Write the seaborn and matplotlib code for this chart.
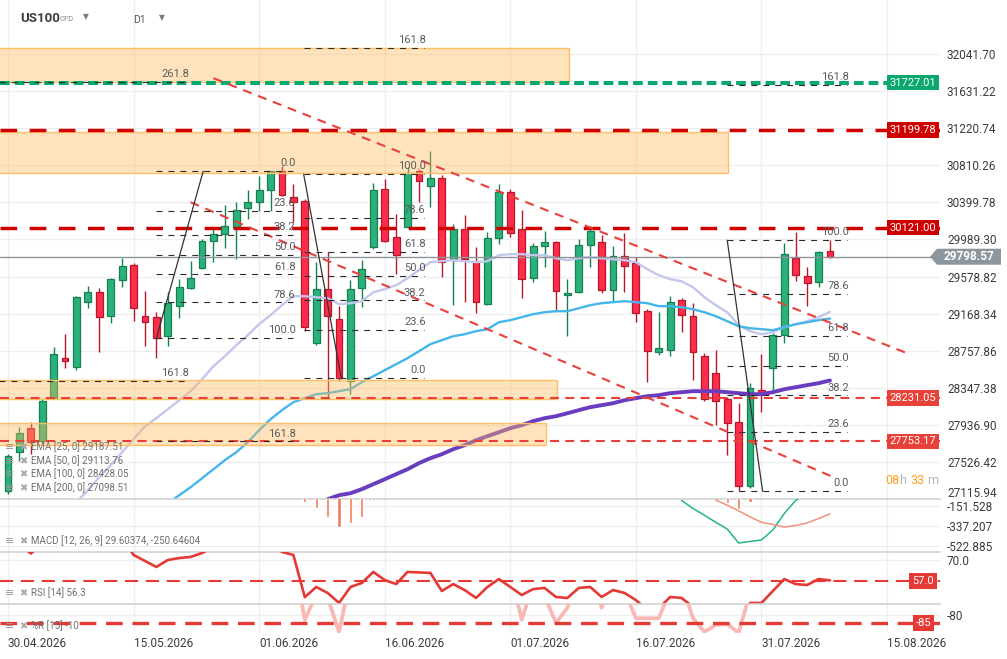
import matplotlib
matplotlib.use("Agg")
import matplotlib.pyplot as plt
import matplotlib.transforms as mtransforms
from matplotlib.patches import Rectangle, Polygon
import numpy as np
import seaborn as sns

# ---- data (US100 CFD, D1) ----
tick_labels = ['30.04.2026', '15.05.2026', '01.06.2026', '16.06.2026',
               '01.07.2026', '16.07.2026', '31.07.2026', '15.08.2026']
bars_per_tick = 11

opens = [27201, 27633, 27899, 27755, 28232, 28675, 28575, 29295, 29406, 29140,
         29539, 29705, 29140, 29129, 28918, 29251, 29450, 29671, 29970, 30048,
         30115, 30336, 30402, 30535, 30746, 30458, 30414, 28841, 29439, 29107,
         28420, 29450, 29904, 30546, 30015, 30126, 30746, 30580, 30668, 29771,
         30103, 29738, 29273, 30004, 30513, 30103, 29561, 29915, 29959, 29372,
         29406, 29926, 29959, 29428, 29804, 29727, 29195, 28741, 28763, 29317,
         29140, 28697, 28509, 28221, 27966, 27257, 28320, 28564, 28929, 29782,
         29583, 29516, 29860]
highs = [27611, 27910, 27966, 28221, 28796, 28940, 29361, 29472, 29450, 29561,
         29782, 29727, 29417, 29184, 29406, 29550, 29749, 29993, 30103, 30369,
         30402, 30535, 30690, 30750, 30801, 30602, 30436, 29738, 29849, 29251,
         29539, 29760, 30613, 30657, 30270, 30790, 30768, 30967, 30702, 30159,
         30258, 29904, 30070, 30602, 30546, 30314, 29948, 30081, 29970, 29550,
         29993, 30137, 30037, 29915, 30059, 29793, 29217, 29184, 29361, 29339,
         29284, 28730, 28763, 28243, 28176, 28398, 28719, 28951, 29948, 30070,
         29683, 29860, 29982]
lows = [27168, 27534, 27611, 27733, 28221, 28564, 28542, 29228, 28741, 29062,
        29461, 29084, 28808, 28675, 28808, 29118, 29439, 29660, 29738, 29893,
        29771, 30214, 30303, 30303, 30469, 30181, 28974, 28819, 28232, 28420,
        28276, 29239, 29882, 29959, 29605, 30115, 30402, 30347, 29572, 29262,
        29295, 29173, 29262, 29937, 30015, 29339, 29516, 29683, 29206, 28918,
        29395, 29683, 29395, 29295, 29406, 29073, 28409, 28708, 28697, 28963,
        28431, 28198, 27933, 27600, 27201, 27235, 28077, 28298, 28841, 29527,
        29251, 29461, 29782]
closes = [27589, 27844, 27744, 28198, 28719, 28641, 29350, 29406, 29129, 29550,
          29694, 29228, 29073, 28896, 29284, 29461, 29561, 29970, 30048, 30137,
          30314, 30402, 30535, 30746, 30480, 30402, 29018, 29439, 29140, 28453,
          29439, 29660, 30535, 29970, 29815, 30724, 30635, 30668, 29738, 30103,
          29771, 29295, 30004, 30513, 30059, 29550, 29915, 29959, 29417, 29395,
          29926, 30081, 29428, 29804, 29694, 29173, 28752, 28785, 29295, 29151,
          28741, 28221, 28198, 27955, 27257, 28342, 28287, 28929, 29827, 29594,
          29505, 29849, 29798.57]

# moving averages (visible part only, aligned to the last bar)
ema25 = [27080, 27213, 27357, 27490, 27633, 27777, 27921, 28010, 28110, 28209,
         28309, 28442, 28586, 28697, 28819, 28929, 29051, 29151, 29262, 29361,
         29361, 29350, 29339, 29273, 29284, 29306, 29406, 29439, 29483, 29561,
         29649, 29738, 29749, 29760, 29749, 29738, 29749, 29815, 29827, 29827,
         29815, 29815, 29782, 29760, 29782, 29793, 29782, 29771, 29760, 29738,
         29660, 29594, 29550, 29527, 29461, 29350, 29262, 29184, 29040, 28974,
         28940, 28963, 29018, 29051, 29084, 29129, 29187.51]
ema50 = [27069, 27157, 27246, 27345, 27445, 27545, 27633, 27744, 27877, 27999,
         28099, 28187, 28232, 28276, 28287, 28309, 28331, 28409, 28475, 28542,
         28608, 28675, 28752, 28830, 28874, 28918, 28940, 28974, 28996, 29073,
         29096, 29129, 29162, 29184, 29195, 29195, 29228, 29262, 29284, 29295,
         29306, 29295, 29284, 29251, 29251, 29239, 29217, 29184, 29140, 29084,
         29029, 29007, 28996, 28985, 29018, 29051, 29073, 29096, 29113.76]
ema100 = [27113, 27157, 27179, 27224, 27279, 27334, 27390, 27445, 27512, 27567,
          27611, 27667, 27711, 27766, 27811, 27855, 27899, 27933, 27977, 28010,
          28032, 28065, 28099, 28132, 28154, 28176, 28209, 28232, 28254, 28265,
          28287, 28298, 28309, 28309, 28309, 28298, 28287, 28276, 28276, 28298,
          28331, 28353, 28376, 28398, 28428.05]

# horizontal levels and their style group
levels = [31727.01, 31199.78, 30121.00, 28231.05, 27753.17]
level_kind = ['target', 'major', 'major', 'minor', 'minor']

# orange zones
zone_top = [32108, 31178, 28431, 27955]
zone_bottom = [31732, 30724, 28221, 27711]
zone_end = [49.1, 63.1, 48.1, 47.1]

# fibonacci tools: price at 0 and 100, start/end bar, end bar of swing line
fib_levels = [0, 23.6, 38.2, 50, 61.8, 78.6, 100, 161.8, 261.8]
fib_p0 = [23061, 30746, 28453, 27201]
fib_p100 = [26373, 28896.3, 30712, 29982]
fib_start = [-2, 13, 25.9, 63]
fib_end = [15.7, 25, 36.4, 73.5]
fib_swing_end = [None, 17.1, 29.2, 66.1]

# red dashed trend lines (bar, price)
trend_x = [[18.0, 78.75], [16.0, 72.1]]
trend_p = [[31776, 28730], [30402, 27368]]

# MACD (only the part inside the panel)
macd_line = [-100, -174, -237, -303, -365, -495, -481, -467, -374, -221, -100, -30, 10, 29.6]
macd_signal = [-96, -144, -196, -252, -303, -323, -347, -333, -309, -268, -225]
macd_hist_days = [26, 27, 28, 29, 30, 31, 32, 63, 64, 65]
macd_hist = [-110, -170, -254, -346, -309, -254, -100, -119, -179, -110]

rsi = [78, 80, 74.0, 80, 84, 83, 86, 86, 82, 84,
       84, 73.1, 69.4, 65.7, 70.0, 71.2, 71.9, 74.3, 78, 78,
       79, 80, 81, 82, 75.0, 73.1, 47.0, 53.3, 49.6, 43.4,
       53.3, 55.8, 62.6, 57.6, 55.1, 62.6, 62.3, 62.0, 50.8, 55.1,
       51.4, 46.5, 53.3, 58.2, 53.3, 48.3, 52.0, 52.7, 47.1, 46.5,
       52.7, 53.3, 47.1, 51.4, 49.6, 45.2, 39.0, 40.0, 47.1, 46.5,
       41.0, 35.0, 33.0, 31.0, 27.0, 43.4, 43.4, 50.8, 58.2, 55.1,
       54.5, 58.2, 57.4]
willr = [-22, -14, -35, -18, -8, -25, -6, -10, -30, -12,
         -9, -28, -55, -60, -38, -26, -20, -8, -12, -6,
         -10, -9, -5, -4, -12, -43, -83, -67, -69, -90.6,
         -57, -40, -15, -25, -45, -12, -20, -18, -50, -42,
         -52, -60, -40, -18, -52.8, -83, -61, -68, -85, -75.5,
         -50, -45, -75.5, -55, -65, -82, -82, -82, -65, -60,
         -82, -90.5, -86.3, -85.6, -91.2, -66, -50, -25, -8, -20,
         -30, -12, -10]

# ---- drawing ----
W, H = 1007, 659
n = len(closes)
days = np.arange(n)

sns.set_style('white')
plt.rcParams['font.family'] = ['Roboto', 'DejaVu Sans']
plt.rcParams['lines.scale_dashes'] = False

fig = plt.figure(figsize=(W / 100, H / 100), dpi=100)


def panel(top, bottom):
    return fig.add_axes([0, 1 - bottom / H, 940 / W, (bottom - top) / H])


ax = panel(0, 499)
ax_macd = panel(499, 552)
ax_rsi = panel(552, 604)
ax_wr = panel(604, 633)
axes = [ax, ax_macd, ax_rsi, ax_wr]

xmin, xmax = -0.70, 81.64
ylo, yhi = 27115, 32642
blend = mtransforms.blended_transform_factory(ax.transAxes, ax.transData)

# candles
o, c = np.array(opens), np.array(closes)
up = c >= o
fill = np.where(up, '#2bb27c', '#ff2d4b')
edge = np.where(up, '#17804f', '#b4182c')
ax.vlines(days, lows, highs, colors=edge, lw=1, zorder=3)
ax.bar(days, np.abs(c - o), bottom=np.minimum(o, c), width=0.6,
       color=fill, edgecolor=edge, lw=0.9, zorder=3.2)

# moving averages
for vals, col, lw in [(ema25, '#c3c7ec', 1.7), (ema50, '#45b6ea', 1.7), (ema100, '#6a3cc0', 2.8)]:
    sns.lineplot(x=days[n - len(vals):], y=vals, ax=ax, color=col, lw=lw, zorder=3.5)

# zones
for top, bot, end in zip(zone_top, zone_bottom, zone_end):
    ax.add_patch(Rectangle((xmin - 1, bot), end - xmin + 1, top - bot,
                           facecolor=(1, 0.73, 0.36, 0.4), edgecolor='#ffbf66', lw=1, zorder=4))

# horizontal levels with tags
styles = {'target': ('#0aa86c', 2.9, (0, (7, 3.6))),
          'major': ('#d10000', 2.5, (0, (12, 9))),
          'minor': ('#e8413a', 1.5, (0, (6.5, 4.5)))}
for lv, kind in zip(levels, level_kind):
    col, lw, ls = styles[kind]
    ax.axhline(lv, color=col, lw=lw, ls=ls, zorder=5)
    ax.text(0.9465, lv, f'{lv:.2f}', transform=blend, ha='left', va='center',
            color='white', fontsize=8, zorder=8, clip_on=True,
            bbox=dict(boxstyle='square,pad=0.25', fc=col, ec='none'))

ax.axhline(closes[-1], color='#8c959b', lw=1, zorder=4.5)

# trend lines
for tx, tp in zip(trend_x, trend_p):
    ax.plot(tx, tp, color='#e8413a', lw=1.5, ls=(0, (6.5, 5)), zorder=5)

# fibonacci
for p0, p100, x0, x1, xs in zip(fib_p0, fib_p100, fib_start, fib_end, fib_swing_end):
    for lv in fib_levels:
        price = p0 + (p100 - p0) * lv / 100
        if not ylo < price < yhi:
            continue
        ax.plot([x0, x1], [price, price], color='#2b2b2b', lw=0.8, ls=(0, (4.3, 4.3)), zorder=5.5)
        ax.annotate(f'{lv:.1f}', (x1, price), xytext=(1.5, 2), textcoords='offset points',
                    ha='right', va='bottom', fontsize=8, color='#5a5a5a', zorder=6)
    if xs is not None:
        ax.plot([x0, xs], [p100, p0], color='#333333', lw=0.9, zorder=5.5)

# MACD
ax_macd.bar(macd_hist_days, macd_hist, width=0.28, color='#ef7a5f', zorder=3)
sns.lineplot(x=days[n - len(macd_line):], y=macd_line, ax=ax_macd, color='#22b585', lw=1.1, zorder=4)
sns.lineplot(x=days[n - len(macd_signal):], y=macd_signal, ax=ax_macd, color='#f2907f', lw=1.1, zorder=4)

# RSI
sns.lineplot(x=days, y=rsi, ax=ax_rsi, color='#e53935', lw=1.9, zorder=4)
ax_rsi.axhline(57, color='#e53935', lw=1.5, ls=(0, (9.5, 5.5)), zorder=3)
ax_rsi.text(0.9705, 57, '57.0', transform=mtransforms.blended_transform_factory(ax_rsi.transAxes, ax_rsi.transData),
            ha='left', va='center', color='white', fontsize=8, clip_on=True, zorder=6,
            bbox=dict(boxstyle='square,pad=0.25', fc='#e53935', ec='none'))

# Williams %R
sns.lineplot(x=days, y=willr, ax=ax_wr, color='#f9b8b4', lw=2.7, zorder=3)
ax_wr.axhline(-85, color='#e53935', lw=2.4, ls=(0, (12, 7)), zorder=4)
ax_wr.text(0.9745, -85, '-85', transform=mtransforms.blended_transform_factory(ax_wr.transAxes, ax_wr.transData),
           ha='left', va='center', color='white', fontsize=8, clip_on=True, zorder=6,
           bbox=dict(boxstyle='square,pad=0.25', fc='#e53935', ec='none'))

# axes formatting
price_ticks = [32041.70, 31631.22, 31220.74, 30810.26, 30399.78, 29989.30, 29578.82,
               29168.34, 28757.86, 28347.38, 27936.90, 27526.42, 27115.94]
ax.set_ylim(ylo, yhi)
ax.set_yticks(price_ticks[:-1])
ax.set_yticklabels([f'{t:.2f}' for t in price_ticks[:-1]])
# the lowest price label sits a little higher, clear of the MACD scale
ax.annotate(f'{price_ticks[-1]:.2f}', (1, price_ticks[-1]), xycoords=blend,
            xytext=(5, 3.8), textcoords='offset points', ha='left', va='center',
            fontsize=8.5, color='#3c3c3c', annotation_clip=False)

ax_macd.set_ylim(-578.6, -86.5)
ax_macd.set_yticks([-151.528, -337.207, -522.885])
ax_macd.set_yticklabels(['-151.528', '-337.207', '-522.885'])
ax_rsi.set_ylim(42.76, 74.95)
ax_rsi.set_yticks([70])
ax_rsi.set_yticklabels(['70.0'])
ax_wr.set_ylim(-91.25, -73.1)
ax_wr.set_yticks([-80])
ax_wr.set_yticklabels(['-80'])

xt = np.arange(len(tick_labels)) * bars_per_tick
for a in axes:
    a.set_xlim(xmin, xmax)
    a.set_xticks(xt)
    a.set_xlabel('')
    a.set_ylabel('')
    a.grid(True, color='#efefef', lw=1)
    a.set_axisbelow(True)
    for s in a.spines.values():
        s.set_visible(False)
    a.yaxis.tick_right()
    a.tick_params(axis='both', length=0, labelsize=8.5, labelcolor='#3c3c3c', pad=5)
for a in axes[:-1]:
    a.tick_params(axis='x', labelbottom=False)
for a in axes[1:]:
    a.spines['top'].set_visible(True)
    a.spines['top'].set_color('#d2d2d2')
    a.spines['top'].set_linewidth(1.2)
ax_wr.set_xticklabels(tick_labels, ha='left')
ax_wr.tick_params(axis='x', pad=3)

# current price tag
y_tag = ax.transData.transform((0, closes[-1]))[1]
fig.add_artist(Polygon([(930, y_tag), (937, y_tag + 8), (1001, y_tag + 8),
                        (1001, y_tag - 8), (937, y_tag - 8)], closed=True,
                       transform=mtransforms.IdentityTransform(), facecolor='#8d969c', edgecolor='none'))
fig.text(969 / W, y_tag / H, f'{closes[-1]:.2f}', ha='center', va='center',
         color='white', fontsize=8.5, weight='bold')

# header
fig.text(20 / W, 1 - 19 / H, 'US100', fontsize=9.5, weight='bold', color='#3d3d3d', va='center')
fig.text(60 / W, 1 - 19 / H, 'CFD', fontsize=5.5, color='#8a8a8a', va='center')
fig.text(83 / W, 1 - 17 / H, '▼', fontsize=5.5, color='#7a7a7a', va='center', family='DejaVu Sans')
fig.text(133 / W, 1 - 20 / H, 'D1', fontsize=7.5, color='#555555', va='center')
fig.text(159 / W, 1 - 18 / H, '▼', fontsize=5.5, color='#7a7a7a', va='center', family='DejaVu Sans')

# indicator captions
captions = [(447, 'EMA [25, 0] 29187.51'), (461, 'EMA [50, 0] 29113.76'),
            (474, 'EMA [100, 0] 28428.05'), (488, 'EMA [200, 0] 27098.51'),
            (541, 'MACD [12, 26, 9] 29.60374, -250.64604'), (593, 'RSI [14] 56.3'),
            (626, '%R [15] -10')]
for yy, txt in captions:
    fig.text(5 / W, 1 - yy / H, '≡', fontsize=8, color='#9a9a9a', va='center', family='DejaVu Sans')
    fig.text(19 / W, 1 - yy / H, '✖', fontsize=7, color='#a8a8a8', va='center', family='DejaVu Sans')
    fig.text(31 / W, 1 - yy / H, txt, fontsize=7, color='#6e6e6e', va='center')

# countdown
for xx, part, col in [(885, '08', '#ff9f1a'), (899, 'h', '#b5b5b5'),
                      (910, '33', '#ff9f1a'), (927, 'm', '#b5b5b5')]:
    fig.text(xx / W, 1 - 481 / H, part, fontsize=9, color=col, va='center')

fig.savefig('out.png', dpi=100)
